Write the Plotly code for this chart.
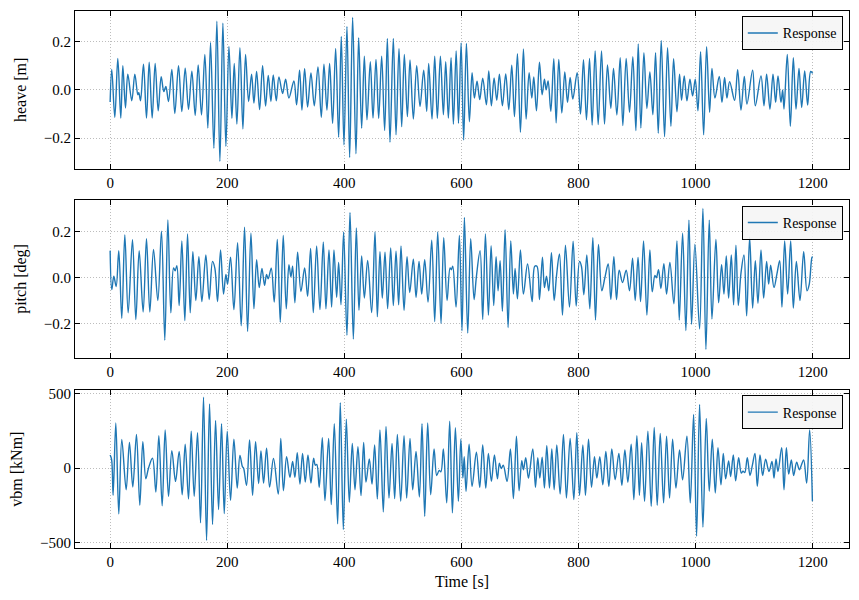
import plotly.graph_objects as go
from plotly.subplots import make_subplots

# ---- data (time [s], value) extrema sequences ----
heave_pts = [
(0,-0.05),(2.8,0.085),(8.0,-0.114),(13.1,0.13),(18.2,-0.117),(21.7,0.10),(26.2,-0.075),(30.2,0.065),(37.0,-0.045),(42.2,0.065),
(47.3,-0.02),(49.0,-0.012),(51.9,-0.045),(57.0,0.106),(62.1,-0.117),(66.7,0.115),(71.8,-0.117),(76.9,0.11),(82.1,-0.087),(87.2,0.055),
(91.7,-0.007),(95.2,0.014),(99.7,-0.048),(105.4,0.085),(110.5,-0.098),(116.8,0.10),(122.5,-0.09),(128.2,0.09),(133.9,-0.081),(139.6,0.077),
(145.3,-0.106),(150.4,0.103),(156.1,-0.104),(161.8,0.147),(166.9,-0.158),(171.5,0.197),(177.2,-0.242),(182.3,0.285),(187.5,-0.296),(192.6,0.276),
(197.7,-0.234),(202.9,0.18),(208.0,-0.118),(212.0,0.11),(216.5,-0.142),(221.7,0.175),(226.8,-0.162),(231.3,0.147),(236.5,-0.048),(241.6,0.065),
(245.6,-0.055),(250.2,0.076),(255.3,-0.082),(260.4,0.10),(265.5,-0.067),(270.1,0.06),(274.6,-0.048),(278.6,0.062),(283.8,-0.045),(288.3,0.054),
(294.6,-0.015),(299.7,0.044),(305.4,-0.034),(313.9,0.037),(318.5,-0.062),(323.6,0.082),(327.6,-0.084),(332.2,0.088),(337.3,-0.071),(343.0,0.07),
(348.7,-0.066),(355.0,0.095),(360.7,-0.114),(365.2,0.106),(370.3,-0.084),(374.9,0.109),(380.0,-0.139),(385.2,0.172),(390.3,-0.197),(394.8,0.221),
(399.4,-0.228),(404.5,0.263),(409.1,-0.28),(414.2,0.30),(419.9,-0.265),(424.5,0.216),(429.6,-0.159),(434.2,0.14),(438.7,-0.124),(444.4,0.117),
(449.0,-0.117),(454.1,0.126),(458.7,-0.118),(463.8,0.14),(468.9,-0.169),(473.5,0.213),(478.0,-0.217),(483.7,0.213),(488.3,-0.186),(493.4,0.172),
(498.0,-0.153),(502.5,0.147),(507.7,-0.111),(512.2,0.124),(517.9,-0.121),(523.6,0.10),(529.3,-0.069),(535.6,0.082),(540.7,-0.089),(544.1,0.11),
(549.8,-0.121),(554.4,0.14),(558.9,-0.118),(564.1,0.14),(569.2,-0.103),(573.2,0.117),(577.7,-0.117),(582.3,0.133),(586.3,-0.142),(591.0,0.161),
(595.0,-0.139),(599.5,0.195),(603.8,-0.208),(608.5,0.192),(613.6,-0.132),(618.2,0.071),(622.2,-0.034),(626.7,0.036),(631.3,-0.04),(636.4,0.048),
(642.7,-0.062),(646.7,0.078),(651.2,-0.066),(655.8,0.049),(660.4,-0.043),(664.9,0.065),(670.0,-0.066),(675.7,0.066),(680.9,-0.082),(686.0,0.102),
(690.6,-0.111),(695.7,0.15),(700.8,-0.176),(705.9,0.17),(710.5,-0.121),(715.6,0.071),(720.2,-0.034),(723.6,0.054),(728.2,-0.087),(733.3,0.115),
(737.9,-0.02),(741.8,0.044),(744.7,0.0),(748.1,0.037),(752.7,-0.089),(757.8,0.129),(761.8,-0.137),(766.3,0.126),(771.5,-0.096),(776.6,0.074),
(781.2,-0.052),(785.7,0.051),(790.3,-0.038),(797.7,0.071),(803.4,-0.10),(808.5,0.125),(813.6,-0.124),(818.8,0.13),(823.3,-0.146),(828.4,0.161),
(833.6,-0.144),(839.3,0.161),(844.4,-0.142),(849.5,0.103),(855.2,-0.076),(859.8,0.089),(865.5,-0.104),(871.2,0.133),(875.7,-0.148),(881.4,0.13),
(887.1,-0.093),(892.8,0.137),(898.0,-0.169),(902.0,0.19),(906.5,-0.158),(911.7,0.154),(916.8,-0.077),(921.9,0.074),(927.0,-0.103),(931.6,0.154),
(936.2,-0.18),(941.3,0.205),(947.0,-0.194),(952.1,0.175),(957.8,-0.151),(962.4,0.129),(968.1,-0.091),(972.6,0.065),(976.0,-0.043),(980.6,0.058),
(985.2,-0.045),(990.3,0.044),(994.9,-0.025),(999.4,0.044),(1004.0,-0.087),(1008.5,0.158),(1013.7,-0.186),(1018.8,0.179),(1023.9,-0.093),(1027.9,0.089),
(1033.0,-0.034),(1040.4,0.056),(1045.0,-0.052),(1049.5,0.051),(1053.5,-0.034),(1058.1,0.034),(1066.6,-0.043),(1071.8,0.084),(1077.5,-0.084),(1083.2,0.056),
(1087.7,-0.059),(1097.4,0.082),(1102.0,-0.066),(1111.7,0.058),(1116.8,-0.066),(1121.3,0.065),(1127.0,-0.08),(1132.2,0.065),(1136.7,-0.052),(1140.7,0.058),
(1145.8,-0.052),(1148.7,0.0),(1151.0,-0.08),(1156.6,0.147),(1161.8,-0.151),(1166.9,0.133),(1171.5,-0.08),(1176.6,0.089),(1181.2,-0.073),(1186.3,0.078),
(1191.4,-0.063),(1196.6,0.076),(1200,0.068),
]

pitch_pts = [
(0,0.118),(2.8,-0.052),(6.3,0.007),(10.3,-0.038),(14.8,0.118),(19.9,-0.177),(25.1,0.186),(30.8,-0.153),(38.2,0.166),(43.9,-0.182),
(49.6,0.118),(56.4,-0.149),(62.1,0.17),(67.8,-0.149),(74.1,0.123),(81.5,-0.099),(87.7,0.203),(93.4,-0.272),(98.6,0.252),(103.7,-0.153),
(108.3,0.043),(111.0,0.03),(114.0,0.052),(117.9,-0.121),(122.5,0.16),(127.6,-0.187),(132.2,0.191),(136.8,-0.153),(141.3,0.113),(146.4,-0.099),
(151.6,0.092),(156.7,-0.104),(163.5,0.099),(169.2,-0.095),(174.9,0.071),(179.0,0.04),(183.5,-0.104),(188.6,0.121),(193.7,-0.071),(197.7,0.014),
(200.6,-0.028),(205.7,0.089),(211.4,-0.139),(217.7,0.152),(223.9,-0.209),(229.6,0.22),(234.8,-0.234),(240.5,0.194),(245.6,-0.135),(250.2,0.078),
(254.7,-0.043),(259.3,0.04),(263.8,-0.033),(267.2,0.014),(270.0,-0.005),(275.2,0.041),(280.3,-0.106),(285.5,0.167),(290.6,-0.194),(295.7,0.184),
(300.8,-0.135),(305.4,0.057),(308.8,0.004),(311.7,0.05),(315.6,-0.109),(320.2,0.111),(325.9,-0.06),(332.2,0.043),(337.3,-0.081),(342.4,0.128),
(347.0,-0.152),(352.7,0.138),(358.4,-0.139),(364.1,0.156),(368.6,-0.135),(373.8,0.121),(378.3,-0.128),(382.3,0.121),(386.9,-0.085),(390.3,0.067),
(394.3,-0.118),(398.8,0.199),(404.5,-0.251),(409.7,0.284),(415.4,-0.267),(420.5,0.217),(425.0,-0.142),(429.6,0.095),(434.2,-0.088),(439.9,0.075),
(446.7,-0.152),(452.4,0.199),(456.4,-0.17),(460.9,0.113),(464.9,-0.089),(469.5,0.111),(474.0,-0.135),(479.2,0.13),(483.7,-0.121),(488.3,0.116),
(492.8,-0.118),(496.8,0.138),(502.0,-0.142),(507.1,0.092),(511.7,-0.064),(517.9,0.081),(522.5,-0.085),(527.6,0.071),(532.2,-0.071),(537.3,0.078),
(543.0,-0.106),(549.3,0.163),(554.4,-0.191),(559.5,0.199),(565.2,-0.199),(569.8,0.174),(575.5,-0.099),(580.6,0.043),(582.8,0.035),(585.2,0.05),
(590.9,-0.128),(596.5,0.184),(601.0,-0.231),(605.1,0.262),(610.8,-0.241),(615.9,0.17),(621.6,-0.095),(625.6,0.005),(631.9,0.118),(636.4,-0.182),
(641.0,0.191),(646.1,-0.163),(650.7,0.139),(655.2,-0.121),(659.2,0.092),(662.6,-0.057),(666.1,0.074),(670.0,-0.146),(674.6,0.209),(679.7,-0.217),
(684.3,0.16),(688.8,-0.071),(691.7,0.04),(695.7,-0.092),(700.8,0.121),(705.9,-0.071),(713.0,0.06),(720.8,-0.104),(725.3,0.05),(729.0,0.05),
(733.3,-0.095),(738.4,0.089),(741.8,-0.043),(745.3,0.007),(749.2,-0.057),(753.8,0.109),(758.4,-0.099),(762.5,0.01),(767.5,0.104),(772.6,-0.163),
(777.7,0.142),(784.6,-0.128),(790.8,0.159),(796.0,-0.123),(801.7,0.071),(805.0,0.05),(809.1,-0.074),(814.2,0.099),(819.3,-0.135),(824.5,0.174),
(829.0,-0.184),(834.1,0.145),(839.8,-0.057),(845.0,0.0),(850.7,0.06),(855.2,-0.095),(860.4,0.092),(864.9,-0.095),(869.5,0.033),(875.2,-0.021),
(881.4,0.033),(887.1,-0.057),(892.3,0.085),(896.8,-0.099),(901.7,0.088),(906.0,-0.104),(911.1,0.16),(916.8,-0.163),(921.9,0.121),(925.9,-0.061),
(930.5,0.01),(933.0,0.0),(936.7,0.035),(940.7,-0.047),(945.8,0.061),(950.4,-0.071),(956.1,0.067),(962.9,-0.113),(968.1,0.16),(972.1,-0.184),
(977.8,0.194),(983.4,-0.23),(988.6,0.251),(993.1,-0.203),(998.8,0.146),(1006.8,-0.223),(1012.5,0.302),(1017.6,-0.312),(1023.3,0.251),(1027.9,-0.18),
(1034.7,0.167),(1039.3,-0.109),(1044.4,0.057),(1048.4,-0.071),(1052.4,0.095),(1056.4,-0.089),(1061.0,0.099),(1064.9,-0.118),(1068.9,0.142),(1072.9,-0.121),
(1077.5,0.02),(1082.6,0.099),(1087.2,-0.166),(1092.3,0.177),(1097.4,-0.132),(1102.0,0.074),(1106.5,-0.111),(1111.7,0.121),(1116.2,-0.089),(1121.3,0.071),
(1124.8,-0.028),(1128.2,0.055),(1133.9,-0.043),(1139.0,0.018),(1143.6,0.074),(1147.5,-0.128),(1152.1,0.16),(1157.2,-0.071),(1162.4,0.16),(1166.9,-0.132),
(1172.1,0.071),(1178.3,-0.099),(1184.6,0.113),(1190.3,-0.057),(1194.0,-0.03),(1198.8,0.089),(1200,0.092),
]

vbm_pts = [
(0,89),(2.5,60),(5.1,-183),(9.7,304),(14.8,-308),(19.9,194),(27.4,-145),(33.0,174),(38.7,-127),(45.0,228),
(50.7,-250),(55.8,179),(61.0,-71),(65.5,0),(72.4,67),(78.1,-161),(83.2,219),(88.9,-254),(94.0,257),(99.7,-190),
(105.4,118),(111.7,-89),(117.9,112),(123.1,-179),(128.2,161),(133.9,-208),(138.5,250),(143.6,-190),(149.3,239),(154.4,-368),
(159.5,478),(164.7,-487),(169.8,433),(174.9,-379),(180.1,321),(185.2,-279),(190.3,299),(194.9,-306),(200.0,250),(205.7,-217),
(211.4,196),(217.1,-134),(221.7,85),(226.0,10),(228.0,0),(233.0,-116),(238.2,190),(243.3,-183),(248.4,179),(253.6,-103),
(257.6,116),(262.1,-100),(267.2,134),(272.4,-127),(279.0,65),(287.2,-174),(291.5,201),(296.0,-152),(301.4,78),(307.1,-62),
(311.7,45),(315.6,-62),(319.6,105),(324.2,-107),(328.7,100),(333.3,-94),(337.9,89),(343.0,-100),(347.5,67),(350.5,20),
(353.0,25),(357.2,-129),(362.4,205),(366.9,-219),(373.2,201),(377.7,-246),(382.9,299),(388.6,-375),(393.1,442),(398.3,-413),
(403.4,330),(408.5,-230),(413.6,167),(418.2,-145),(423.3,145),(428.5,-185),(433.0,174),(437.0,-94),(442.7,62),(447.3,-107),
(451.8,156),(456.4,-208),(460.9,257),(466.6,-295),(471.2,281),(476.3,-201),(481.5,167),(486.0,-205),(490.6,228),(496.3,-223),
(502.0,219),(506.5,-201),(512.2,201),(516.8,-145),(522.5,112),(528.2,-194),(532.7,299),(537.3,-324),(542.4,304),(547.5,-179),
(553.3,129),(557.8,-49),(562.0,-15),(565.0,-25),(569.2,129),(574.9,-234),(580.0,317),(584.6,-301),(589.7,272),(594.8,-223),
(599.0,196),(602.5,-67),(604.8,78),(607.9,-156),(613.1,161),(618.2,-123),(625.6,107),(631.3,-129),(636.4,156),(641.6,-134),
(646.1,100),(651.2,-89),(656.4,89),(661.5,-71),(664.9,33),(668.0,-2),(671.5,20),(678.0,-89),(683.7,129),(688.8,-205),
(694.0,216),(698.5,-152),(703.1,51),(705.9,-11),(709.9,71),(714.5,-67),(721.9,129),(726.5,-129),(730.4,71),(733.9,-67),
(737.9,74),(741.8,-134),(745.8,152),(750.4,-134),(754.4,129),(758.4,-145),(762.9,156),(768.6,-174),(774.3,228),(779.4,-201),
(785.7,201),(792.0,-212),(797.1,239),(801.7,-183),(807.4,156),(811.9,-183),(817.1,196),(822.2,-129),(827.3,78),(831.3,-67),
(836.4,78),(841.5,-112),(846.7,112),(851.8,-123),(856.9,129),(862.6,-78),(868.9,100),(874.0,-116),(879.2,123),(884.3,-94),
(890.0,161),(894.5,-212),(899.7,219),(904.0,-183),(907.8,172),(912.8,-223),(918.5,250),(924.2,-257),(929.3,275),(934.4,-250),
(939.6,234),(945.3,-234),(950.4,216),(955.5,-201),(960.7,196),(966.4,-134),(972.6,123),(977.8,-78),(985.2,216),(990.9,-234),
(996.6,362),(1001.7,-458),(1006.8,429),(1012.5,-397),(1018.2,335),(1023.3,-156),(1028.5,196),(1033.6,-167),(1038.2,138),(1043.3,-112),
(1047.3,100),(1051.3,-71),(1056.4,49),(1059.8,-56),(1064.4,89),(1068.4,-85),(1073.5,71),(1078.0,-33),(1081.0,-20),(1084.0,-30),
(1088.3,71),(1092.9,-49),(1097.0,20),(1101.4,100),(1105.4,-123),(1110.0,89),(1114.5,-49),(1119.6,60),(1125.3,-22),(1130.5,45),
(1133.9,-67),(1137.3,62),(1140.7,-22),(1147.0,138),(1151.0,-145),(1155.0,138),(1159.0,-40),(1163.5,56),(1167.5,-49),(1172.6,40),
(1177.2,-11),(1181.0,25),(1184.6,56),(1189.7,-100),(1194.8,257),(1199.5,-223),
]

y_titles = ["heave [m]", "pitch [deg]", "vbm [kNm]"]
x_ticks = [0, 200, 400, 600, 800, 1000, 1200]
y_ticks = [[-0.2, 0.0, 0.2], [-0.2, 0.0, 0.2], [-500, 0, 500]]
y_ranges = [[-0.327, 0.327], [-0.351, 0.340], [-538, 525]]
series_name = "Response"

FONT = "Liberation Serif"
BLUE = "#1f77b4"

fig = make_subplots(rows=3, cols=1)
all_pts = [heave_pts, pitch_pts, vbm_pts]
leg_names = ["legend", "legend2", "legend3"]
for i, pts in enumerate(all_pts):
    t = [p[0] for p in pts]
    v = [p[1] for p in pts]
    fig.add_trace(go.Scatter(x=t, y=v, mode="lines", name=series_name,
                             line=dict(color=BLUE, width=1.4, shape="spline", smoothing=1.0),
                             legend=leg_names[i], showlegend=True), row=i + 1, col=1)

domains = [[0.7063, 1.0], [0.3532, 0.6487], [0.0, 0.2937]]
axis_common = dict(showline=True, linecolor="black", linewidth=1, mirror="ticks",
                   ticks="inside", ticklen=5, tickwidth=1, tickcolor="black",
                   showgrid=True, gridcolor="#bdbdbd", gridwidth=0.8, griddash="1px,2px",
                   zeroline=False, tickfont=dict(family=FONT, size=15, color="black"))

for i in range(3):
    xa = "xaxis" if i == 0 else f"xaxis{i+1}"
    ya = "yaxis" if i == 0 else f"yaxis{i+1}"
    fig.layout[xa].update(range=[-60, 1262], tickvals=x_ticks, domain=[0, 1], **axis_common)
    fmt = ".1f" if i < 2 else "d"
    fig.layout[ya].update(range=y_ranges[i], tickvals=y_ticks[i], tickformat=fmt,
                          domain=domains[i],
                          title=dict(text=y_titles[i], font=dict(family=FONT, size=16, color="black"), standoff=13),
                          **axis_common)

fig.layout["xaxis3"].update(title=dict(text="Time [s]", font=dict(family=FONT, size=16, color="black"), standoff=6))

legend_tops = [0.99, 0.637, 0.284]
for i, ln in enumerate(leg_names):
    fig.layout[ln] = dict(x=0.992, y=legend_tops[i], xanchor="right", yanchor="top",
                          bgcolor="rgba(245,245,245,0.9)", bordercolor="black", borderwidth=1,
                          font=dict(family=FONT, size=14, color="black"),
                          itemwidth=30, tracegroupgap=0)

fig.update_layout(width=859, height=600, margin=dict(l=75, r=10, t=7, b=52),
                  paper_bgcolor="white", plot_bgcolor="white",
                  font=dict(family=FONT, size=15, color="black"))

fig.write_html("out.html")
